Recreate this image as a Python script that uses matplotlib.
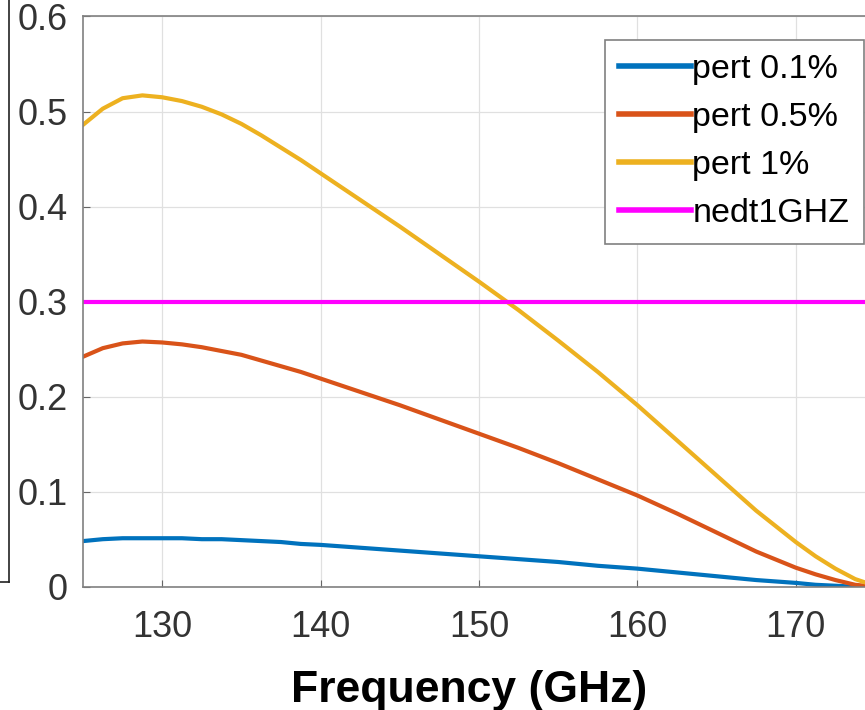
import matplotlib.pyplot as plt

# Valores
freq = [125, 126.25, 127.5, 128.75, 130, 131.25, 132.5, 133.75, 135, 136.25, 137.5, 138.75,
        140, 142.5, 145, 147.5, 150, 152.5, 155, 157.5, 160, 162.5, 165, 167.5, 170,
        171.25, 172.5, 173.75, 175]
pert1 = [0.486, 0.503, 0.514, 0.517, 0.515, 0.511, 0.505, 0.497, 0.487, 0.475, 0.462, 0.449,
         0.435, 0.407, 0.379, 0.350, 0.321, 0.291, 0.259, 0.226, 0.191, 0.154, 0.117, 0.080,
         0.047, 0.032, 0.019, 0.008, 0.001]
pert05 = [0.242, 0.251, 0.256, 0.258, 0.257, 0.255, 0.252, 0.248, 0.244, 0.238, 0.232, 0.226,
          0.219, 0.205, 0.191, 0.176, 0.161, 0.146, 0.130, 0.113, 0.096, 0.077, 0.057, 0.037,
          0.020, 0.013, 0.007, 0.002, 0.0]
pert01 = [0.048, 0.050, 0.051, 0.051, 0.051, 0.051, 0.050, 0.050, 0.049, 0.048, 0.047, 0.045,
          0.044, 0.041, 0.038, 0.035, 0.032, 0.029, 0.026, 0.022, 0.019, 0.015, 0.011, 0.007,
          0.004, 0.002, 0.001, 0.0, 0.0]
nedt = 0.3

xticks = [130, 140, 150, 160, 170]
yticks = [0, 0.1, 0.2, 0.3, 0.4, 0.5, 0.6]
ylabels = ['0', '0.1', '0.2', '0.3', '0.4', '0.5', '0.6']

plt.rcParams['font.family'] = ['Liberation Sans', 'DejaVu Sans']

fig = plt.figure(figsize=(8.65, 7.10), dpi=100)

# pedaço do gráfico vizinho (recortado) à esquerda
ax0 = fig.add_axes([-100/865, 128/710, 108.5/865, 600/710])
ax0.set_xticks([])
ax0.set_yticks([])
for s in ax0.spines.values():
    s.set_color('#222222')
    s.set_linewidth(1.2)

ax = fig.add_axes([83/865, 123.3/710, 792/865, 570.2/710])

ax.plot(freq, pert01, color='#0072BD', lw=3, label='pert 0.1%')
ax.plot(freq, pert05, color='#D95319', lw=3, label='pert 0.5%')
ax.plot(freq, pert1, color='#EDB120', lw=3, label='pert 1%')
ax.axhline(nedt, color='#FF00FF', lw=3, label='nedt1GHZ')

ax.set_xlim(125, 175)
ax.set_ylim(0, 0.6)
ax.set_xticks(xticks)
ax.set_yticks(yticks)
ax.set_yticklabels(ylabels)
ax.grid(True, color='#e0e0e0', lw=0.9)
ax.set_axisbelow(True)
for s in ax.spines.values():
    s.set_color('#808080')
    s.set_linewidth(1.2)
ax.tick_params(direction='in', length=5, color='#666666', labelsize=26,
               labelcolor='#333333')
ax.tick_params(axis='x', pad=17)
ax.tick_params(axis='y', pad=11)

fig.text(469.5/865, 8/710, 'Frequency (GHz)', fontsize=32, fontweight='bold',
         ha='center', va='baseline')

leg = ax.legend(loc='upper left', bbox_to_anchor=(605/865, 1 - 40/710),
                bbox_transform=fig.transFigure, fontsize=24.5, handlelength=2.1,
                handletextpad=0.05, borderpad=0.42, borderaxespad=0, labelspacing=0.5,
                fancybox=False, edgecolor='#808080', framealpha=1)
leg.get_frame().set_linewidth(1.2)
for line in leg.get_lines():
    line.set_linewidth(4)

plt.savefig('out.png', dpi=100)
